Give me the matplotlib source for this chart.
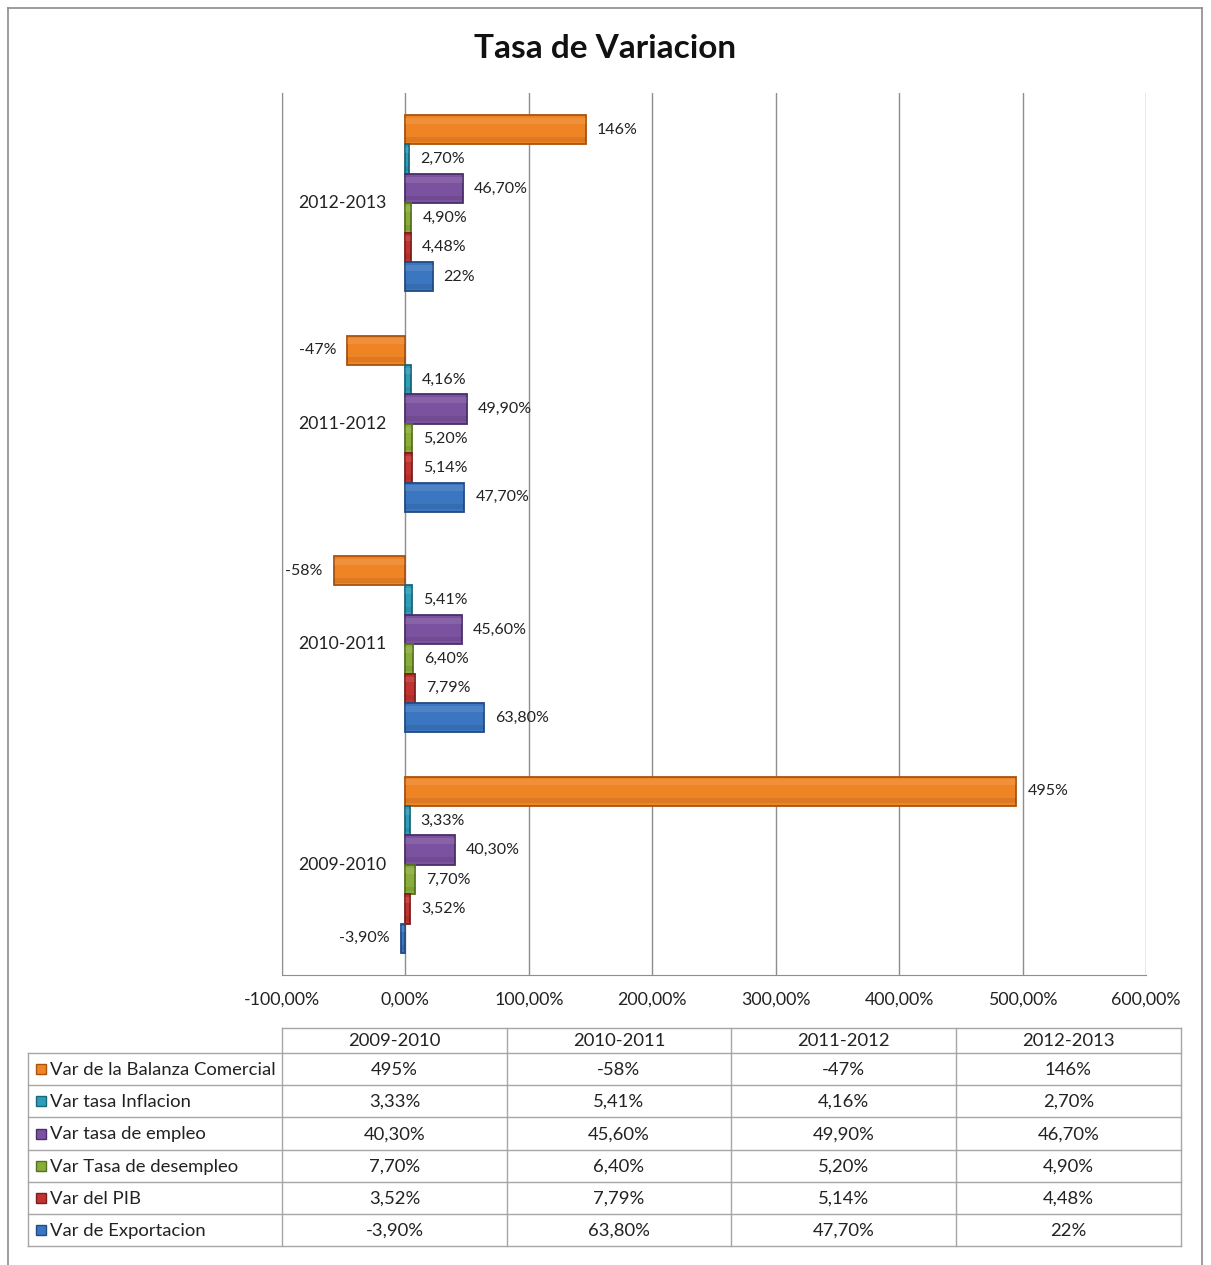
import numpy as np
import matplotlib.pyplot as plt
from matplotlib.patches import Rectangle

plt.rcParams['font.family'] = ['Lato', 'DejaVu Sans']

# data
periods = ['2009-2010', '2010-2011', '2011-2012', '2012-2013']
series = ['Var de la Balanza Comercial', 'Var tasa Inflacion', 'Var tasa de empleo',
          'Var Tasa de desempleo', 'Var del PIB', 'Var de Exportacion']
balanza = [495, -58, -47, 146]
inflacion = [3.33, 5.41, 4.16, 2.70]
empleo = [40.30, 45.60, 49.90, 46.70]
desempleo = [7.70, 6.40, 5.20, 4.90]
pib = [3.52, 7.79, 5.14, 4.48]
exportacion = [-3.90, 63.80, 47.70, 22]
values = [balanza, inflacion, empleo, desempleo, pib, exportacion]
xticks = [-100, 0, 100, 200, 300, 400, 500, 600]

colors = ['#EF8425', '#2F9DB7', '#7B529F', '#89AC3B', '#BF3431', '#3B76C0']
edges = ['#A9530E', '#1B6779', '#4A2F6A', '#56731F', '#7E1E1C', '#224C84']

W, H = 1211, 1265


def fmt(v):
    if v == round(v):
        return f'{int(v)}%'
    return f'{v:.2f}%'.replace('.', ',')


fig = plt.figure(figsize=(W / 100, H / 100), dpi=100)

ax = fig.add_axes([282 / W, 1 - 975 / H, (1146 - 282) / W, (975 - 93) / H])
n = len(series)
h = 1 / (n + 1.5)
for j, vals in enumerate(values):
    ys = np.arange(len(periods)) + (2.5 - j) * h
    ax.barh(ys, vals, height=h, color=colors[j], edgecolor=edges[j], linewidth=1.3, zorder=3)
    # soft bevel: lighter top band, darker bottom band
    ax.barh(ys + h * 0.3, vals, height=h * 0.2, color='white', alpha=0.10, linewidth=0, zorder=4)
    ax.barh(ys - h * 0.32, vals, height=h * 0.16, color='black', alpha=0.08, linewidth=0, zorder=4)
    for y, v in zip(ys, vals):
        off = 11 if v >= 0 else -11
        ax.annotate(fmt(v), (v, y), xytext=(off, 0), textcoords='offset pixels',
                    ha='left' if v >= 0 else 'right', va='center', fontsize=11.5, color='#222222')

for i, p in enumerate(periods):
    ax.annotate(p, (0, i), xytext=(-19, 0), textcoords='offset pixels',
                ha='right', va='center', fontsize=12.7, color='#222222')

ax.set_xlim(-100, 600)
ax.set_ylim(-0.5, len(periods) - 0.5)
ax.set_xticks(xticks)
ax.set_xticklabels([f'{t:.2f}%'.replace('.', ',') for t in xticks], fontsize=12.8, color='#222222')
ax.set_yticks([])
ax.tick_params(axis='x', length=0, pad=12)
ax.grid(axis='x', color='#8E8E8E', linewidth=1, zorder=0)
for s in ['top', 'right']:
    ax.spines[s].set_visible(False)
for s in ['left', 'bottom']:
    ax.spines[s].set_color('#8E8E8E')

# overlay in pixel coordinates for title, border and data table
ov = fig.add_axes([0, 0, 1, 1])
ov.set_xlim(0, W)
ov.set_ylim(H, 0)
ov.axis('off')
ov.patch.set_visible(False)

border = '#8C8C8C'
ov.plot([8, 8], [8, H], color=border, lw=1.2)
ov.plot([1202, 1202], [8, H], color=border, lw=1.2)
ov.plot([8, 1202], [8, 8], color=border, lw=1.2)

ov.text(605, 49, 'Tasa de Variacion', ha='center', va='center', fontsize=24, fontweight='bold', color='#111111')

cols = [28, 282, 507, 731, 956, 1181]
rows = [1028, 1053, 1085, 1117, 1150, 1182, 1214, 1246]
lc = '#A6A6A6'
ov.plot([cols[1], cols[-1]], [rows[0], rows[0]], color=lc, lw=1)
for r in rows[1:]:
    ov.plot([cols[0], cols[-1]], [r, r], color=lc, lw=1)
ov.plot([cols[0], cols[0]], [rows[1], rows[-1]], color=lc, lw=1)
for c in cols[1:]:
    ov.plot([c, c], [rows[0], rows[-1]], color=lc, lw=1)

fs = 13.3
for k, p in enumerate(periods):
    ov.text((cols[k + 1] + cols[k + 2]) / 2, (rows[0] + rows[1]) / 2 + 1, p,
            ha='center', va='center', fontsize=fs, color='#222222')

for j, name in enumerate(series):
    yc = (rows[j + 1] + rows[j + 2]) / 2
    ov.add_patch(Rectangle((36, yc - 5), 10, 10, facecolor=colors[j], edgecolor=edges[j], lw=1))
    ov.text(50, yc + 1, name, ha='left', va='center', fontsize=fs, color='#222222')
    for k, v in enumerate(values[j]):
        ov.text((cols[k + 1] + cols[k + 2]) / 2, yc + 1, fmt(v),
                ha='center', va='center', fontsize=fs, color='#222222')

fig.savefig('out.png', dpi=100)
